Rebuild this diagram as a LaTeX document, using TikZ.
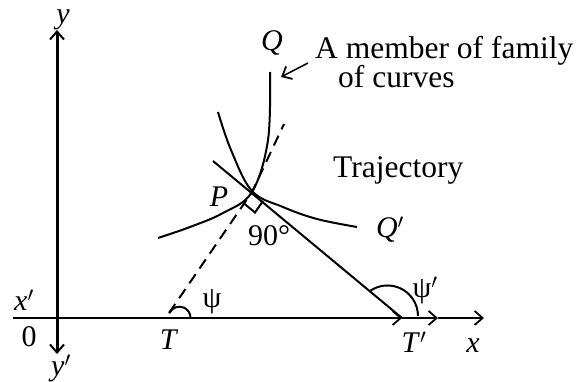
\documentclass[tikz,border=0pt]{standalone}
\usepackage{fontspec}
\setmainfont{Liberation Serif}
\usetikzlibrary{arrows.meta}
\begin{document}
\begin{tikzpicture}[x=1pt,y=-1pt,
  lab/.style={font=\fontsize{30}{32}\selectfont, inner sep=0pt},
  txt/.style={font=\fontsize{31.5}{34}\selectfont, inner sep=0pt, anchor=base west},
  barb/.style={-{Straight Barb[length=8pt,width=14pt,line width=1.8pt]}},
  dbarb/.style={{Straight Barb[length=8pt,width=14pt,line width=2pt]}-{Straight Barb[length=8pt,width=14pt,line width=2pt]}},
  ln/.style={line width=2pt},
  dashline/.style={line width=2pt, dash pattern=on 11pt off 7pt}]
\useasboundingbox (0,0) rectangle (579,381);
% coordinates
\coordinate (ytop) at (57,30);
\coordinate (ybot) at (57,354);
\coordinate (xl) at (13,318);
\coordinate (Tp) at (402,318);
\coordinate (xm) at (438,318);
\coordinate (xr) at (484,318);
\coordinate (P) at (252,192);
\coordinate (Tstart) at (169,313);
\coordinate (dtop) at (284,124);
\coordinate (tanstart) at (213,161);
\coordinate (arrtail) at (308,63);
\coordinate (arrtip) at (281,77);
% axes
\draw[line width=3pt, dbarb] (ybot) -- (ytop);
\draw[ln, barb] (xl) -- (Tp);
\draw[ln, barb] (Tp) -- (xm);
\draw[ln, barb] (xm) -- (xr);
% curves
\draw[ln] plot[smooth, tension=0.6] coordinates {(270,72) (268,140) (252,192) (223,213) (190,227) (158,238)};
\draw[ln] plot[smooth, tension=0.6] coordinates {(218,112) (231,150) (252,191) (283,207) (317,219) (357,227)};
% tangent lines
\draw[dashline] (Tstart) -- (P) -- (dtop);
\draw[ln] (tanstart) -- (Tp);
% right angle mark
\draw[ln] (244,203.5) -- (255,212.5) -- (263,201);
% angle arcs
\draw[ln] (169.5,313) arc[start angle=-155, end angle=0, radius=11];
\draw[ln] (370,291) arc[start angle=-125, end angle=0, radius=30.5];
% arrow to curve
\draw[line width=1.5pt, barb] (arrtail) -- (arrtip);
% labels
\node[lab] (ly) at (63,20) {\textit{y}};
\node[lab] (lyp) at (61,368) {\textit{y}$'$};
\node[lab] (lxp) at (24,300) {\textit{x}$'$};
\node[lab] (lo) at (29,337) {0};
\node[lab] (lT) at (169,340) {\textit{T}};
\node[lab] (lTp) at (414,342) {\textit{T}$'$};
\node[lab] (lx) at (473,346) {\textit{x}};
\node[lab] (lpsi) at (212,302) {ψ};
\node[lab] (lpsip) at (425,290) {ψ$'$};
\node[lab] (l90) at (269,236) {90°};
\node[lab] (lP) at (219,197) {\textit{P}};
\node[lab] (lQ) at (272,43) {\textit{Q}};
\node[lab] (lQp) at (390,230) {\textit{Q}$'$};
\node[txt] (t1) at (315,58) {A member of family};
\node[txt] (t2) at (338,87) {of curves};
\node[txt] (t3) at (333,177) {Trajectory};
\end{tikzpicture}
\end{document}
